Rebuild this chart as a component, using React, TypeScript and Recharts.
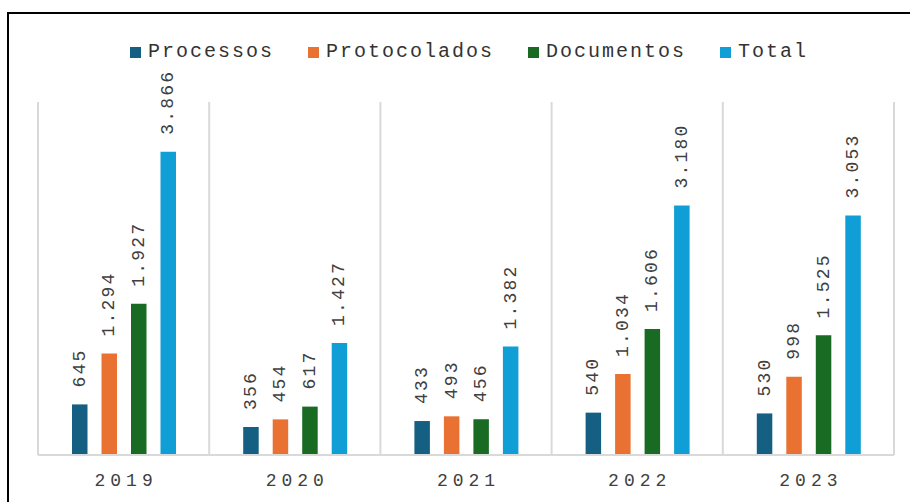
import { BarChart, Bar, XAxis, YAxis, CartesianGrid, Legend, LabelList } from 'recharts';

const anos = ['2019', '2020', '2021', '2022', '2023'];
const processos = [645, 356, 433, 540, 530];
const protocolados = [1294, 454, 493, 1034, 998];
const documentos = [1927, 617, 456, 1606, 1525];
const total = [3866, 1427, 1382, 3180, 3053];

const SERIES = [
  { key: 'processos', name: 'Processos', color: '#156082' },
  { key: 'protocolados', name: 'Protocolados', color: '#E97132' },
  { key: 'documentos', name: 'Documentos', color: '#196B24' },
  { key: 'total', name: 'Total', color: '#0F9ED5' },
];

const FONT = '"Liberation Mono", "Courier New", monospace';

const data = anos.map((ano, i) => ({
  ano,
  processos: processos[i],
  protocolados: protocolados[i],
  documentos: documentos[i],
  total: total[i],
}));

const fmt = (v: number) => String(v).replace(/\B(?=(\d{3})+(?!\d))/g, '.');

const ValueLabel = (props: any) => {
  const { x, y, width, value } = props;
  const cx = x + width / 2;
  const ty = y - 17;
  return (
    <text
      x={cx}
      y={ty}
      transform={`rotate(-90, ${cx}, ${ty})`}
      textAnchor="start"
      dominantBaseline="central"
      fill="#404040"
      fontFamily={FONT}
      fontSize={18}
      style={{ letterSpacing: 2.2 }}
    >
      {fmt(value)}
    </text>
  );
};

const YearTick = (props: any) => {
  const { x, y, payload } = props;
  return (
    <text
      x={x + 2.5}
      y={y + 31}
      textAnchor="middle"
      fill="#404040"
      fontFamily={FONT}
      fontSize={18}
      style={{ letterSpacing: 5 }}
    >
      {payload.value}
    </text>
  );
};

const LegendContent = () => (
  <div
    style={{
      display: 'flex',
      alignItems: 'center',
      paddingLeft: 130,
      fontFamily: FONT,
      fontSize: 20,
      lineHeight: '24px',
      color: '#333',
    }}
  >
    {SERIES.map((s) => (
      <div key={s.key} style={{ display: 'flex', alignItems: 'center', marginRight: 34 }}>
        <span style={{ width: 11, height: 11, background: s.color, marginRight: 7, display: 'inline-block' }} />
        <span style={{ letterSpacing: 2 }}>{s.name}</span>
      </div>
    ))}
  </div>
);

// grade vertical nas divisas entre os anos
const boundaries = ({ offset }: any) =>
  Array.from({ length: anos.length + 1 }, (_, i) => offset.left + (i * offset.width) / anos.length);

export default function App() {
  return (
    <div>
      <div
        style={{
          position: 'absolute',
          left: 7,
          top: 12,
          width: 910,
          height: 500,
          borderTop: '2px solid #000',
          borderLeft: '2px solid #000',
          boxSizing: 'border-box',
        }}
      />
      <div style={{ position: 'absolute', left: 0, top: 0 }}>
        <BarChart
          width={910}
          height={502}
          data={data}
          margin={{ top: 102, right: 16, bottom: 17, left: 38 }}
          barSize={15.5}
          barGap={14}
        >
          <CartesianGrid
            horizontal={false}
            vertical
            stroke="#d9d9d9"
            strokeWidth={2}
            verticalCoordinatesGenerator={boundaries}
          />
          <XAxis
            dataKey="ano"
            height={30}
            axisLine={{ stroke: '#d9d9d9', strokeWidth: 2 }}
            tickLine={false}
            tickSize={0}
            tickMargin={0}
            tick={<YearTick />}
            interval={0}
          />
          <YAxis hide domain={[0, 4500]} />
          <Legend
            verticalAlign="middle"
            align="center"
            layout="horizontal"
            wrapperStyle={{ top: 40, left: 0, width: 910 }}
            content={<LegendContent />}
          />
          {SERIES.map((s) => (
            <Bar key={s.key} dataKey={s.key} name={s.name} fill={s.color} isAnimationActive={false}>
              <LabelList dataKey={s.key} content={<ValueLabel />} />
            </Bar>
          ))}
        </BarChart>
      </div>
    </div>
  );
}
